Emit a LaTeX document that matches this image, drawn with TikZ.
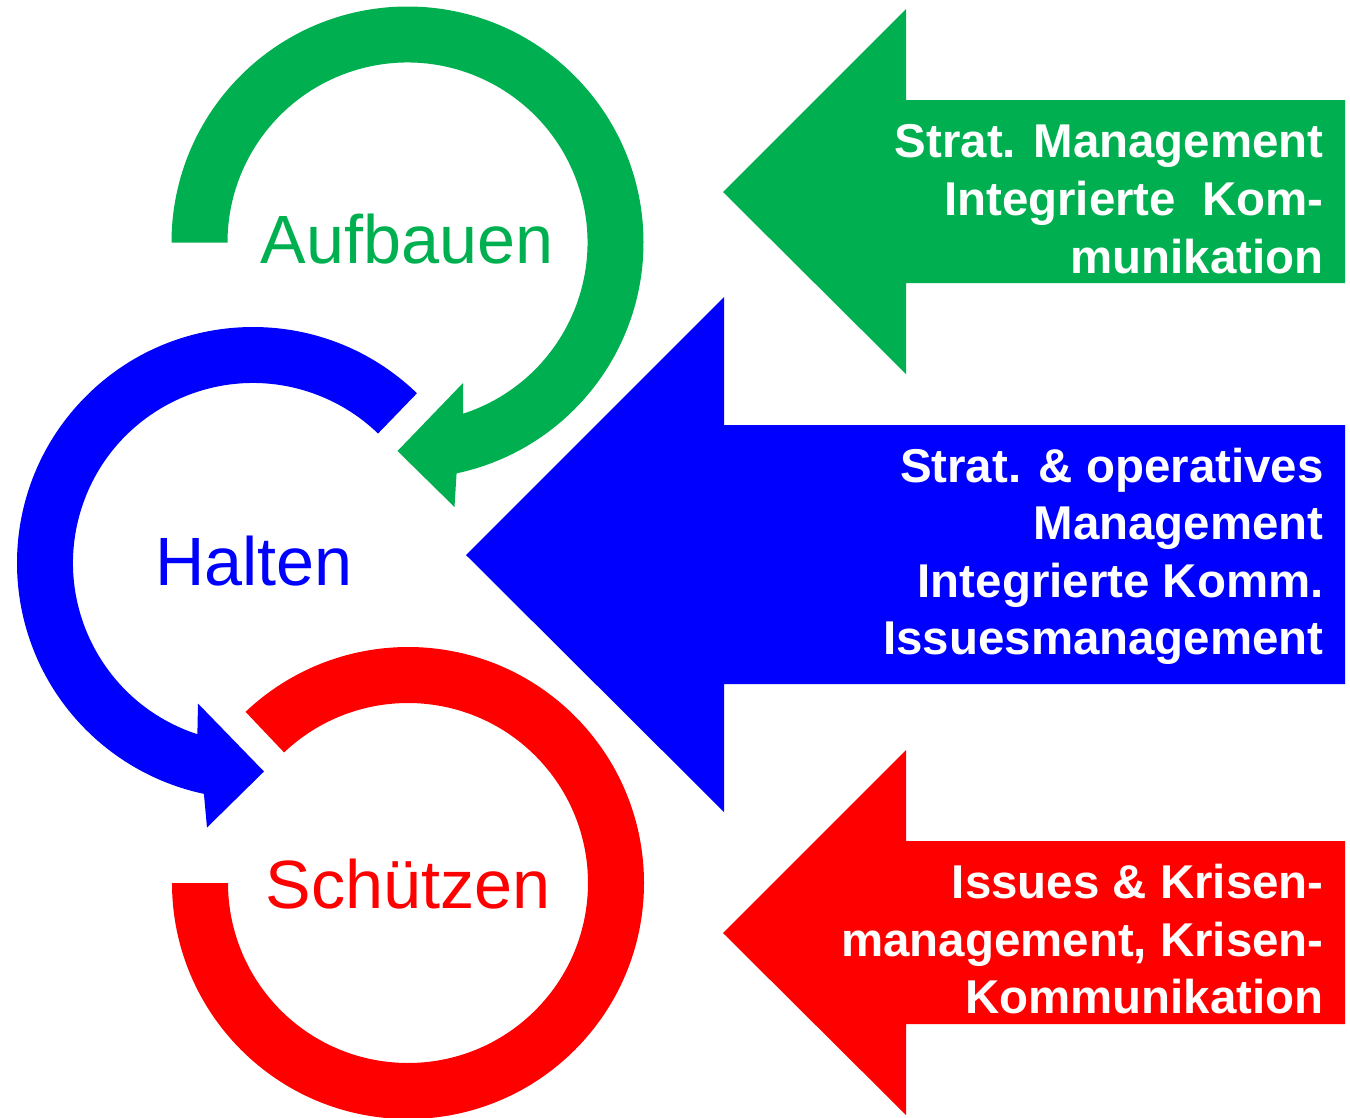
\documentclass[tikz,border=0pt]{standalone}
\usepackage{fontspec}
\setmainfont{Liberation Sans}
\usetikzlibrary{calc}
\definecolor{ringgreen}{HTML}{00B050}
\definecolor{ringblue}{HTML}{0000FF}
\definecolor{ringred}{HTML}{FF0000}
\begin{document}
\begin{tikzpicture}[x=0.02cm,y=-0.02cm,
  ringword/.style={inner sep=0pt, anchor=base, font=\fontsize{38.9}{45}\selectfont},
  arrowtext/.style={inner sep=0pt, anchor=base east, text=white,
    font=\fontsize{27}{33}\selectfont\bfseries},
  ]
\useasboundingbox (0,0) rectangle (1350,1117);
\clip (0,0) rectangle (1350,1117);

% ring centres
\coordinate (G) at (407.5,242.5);
\coordinate (B) at (253,563);
\coordinate (R) at (408,883);

% green ring: from the left, clockwise over the top, head pointing left
\fill[ringgreen] ($(G)+(180:236)$) arc[start angle=180,end angle=438,radius=236]
  -- ($(G)+(47,264.5)$) -- ($(G)+(-10,208.5)$) -- ($(G)+(55.5,140.5)$)
  -- ($(G)+(432:180)$) arc[start angle=432,end angle=180,radius=180] -- cycle;

% blue ring: from upper right, anticlockwise, head pointing right
\fill[ringblue] ($(B)+(-46:236)$) arc[start angle=-46,end angle=-258,radius=236]
  -- ($(B)+(-46,264.5)$) -- ($(B)+(11,208.5)$) -- ($(B)+(-55,140.5)$)
  -- ($(B)+(-252:180)$) arc[start angle=-252,end angle=-46,radius=180] -- cycle;

% red ring: open band without head
\fill[ringred] ($(R)+(180:236)$) arc[start angle=180,end angle=-133.5,radius=236]
  -- ($(R)+(-133.5:180)$) arc[start angle=-133.5,end angle=180,radius=180] -- cycle;

% block arrows pointing left
\fill[ringgreen] (1345,100) -- (906,100) -- (906,9) -- (723,192) -- (906,374)
  -- (906,283) -- (1345,283) -- cycle;
\fill[ringblue] (1345,425) -- (724,425) -- (724,297) -- (466,555) -- (724,812)
  -- (724,684) -- (1345,684) -- cycle;
\fill[ringred] (1345,841) -- (906,841) -- (906,750) -- (723,933) -- (906,1115)
  -- (906,1024) -- (1345,1024) -- cycle;

% ring captions
\node[ringword, text=ringgreen] (aufbauen) at (407,263) {Aufbauen};
\node[ringword, text=ringblue] (halten) at (254,585) {Halten};
\node[ringword, text=ringred] (schuetzen) at (408,908) {Schützen};

% green arrow text
\node[arrowtext] (g1) at (1324,157) {Strat. Management};
\node[arrowtext] (g2) at (1324,215) {Integrierte~ Kom-};
\node[arrowtext] (g3) at (1324,273) {munikation};

% blue arrow text
\node[arrowtext] (b1) at (1324,482) {Strat. \& operatives};
\node[arrowtext] (b2) at (1324,539) {Management};
\node[arrowtext] (b3) at (1324,597) {Integrierte Komm.};
\node[arrowtext] (b4) at (1324,654) {Issuesmanagement};

% red arrow text
\node[arrowtext] (r1) at (1324,898) {Issues \& Krisen-};
\node[arrowtext] (r2) at (1324,956) {management, Krisen-};
\node[arrowtext] (r3) at (1324,1013) {Kommunikation};
\end{tikzpicture}
\end{document}
